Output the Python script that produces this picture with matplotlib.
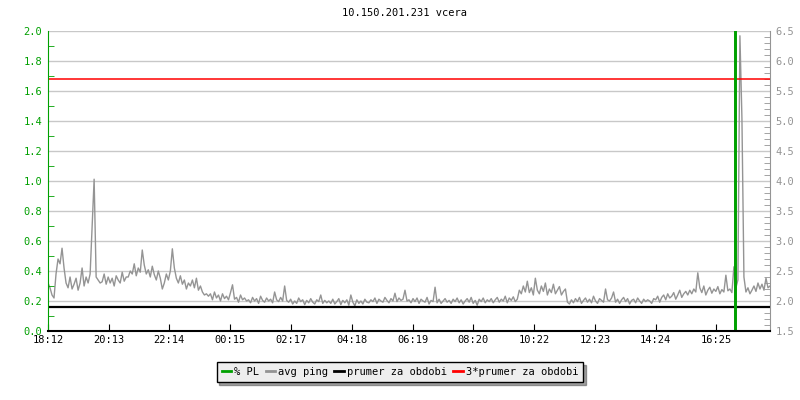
import numpy as np
import matplotlib
matplotlib.use("Agg")
import matplotlib.pyplot as plt
from matplotlib.ticker import MultipleLocator, FormatStrFormatter

# Data (minutes since 18:12, 4 minute steps for ping)
tick_minutes = [0, 121, 242, 363, 485, 606, 727, 848, 970, 1091, 1212, 1333]
tick_labels = ["18:12", "20:13", "22:14", "00:15", "02:17", "04:18",
               "06:19", "08:20", "10:22", "12:23", "14:24", "16:25"]

ping = [
    2.30, 2.22, 2.10, 2.05, 2.45, 2.70, 2.62, 2.88, 2.55, 2.30, 2.22, 2.40, 2.20, 2.28, 2.38, 2.18, 2.30, 2.55, 2.25, 2.40,
    2.30, 2.45, 3.23, 4.03, 2.40, 2.35, 2.30, 2.32, 2.45, 2.28, 2.40, 2.30, 2.38, 2.25, 2.42, 2.35, 2.30, 2.48, 2.33, 2.40,
    2.40, 2.50, 2.45, 2.62, 2.42, 2.55, 2.48, 2.85, 2.60, 2.45, 2.52, 2.40, 2.58, 2.44, 2.35, 2.50, 2.38, 2.20, 2.30, 2.45,
    2.35, 2.50, 2.87, 2.55, 2.38, 2.30, 2.42, 2.28, 2.35, 2.20, 2.30, 2.25, 2.35, 2.22, 2.38, 2.18, 2.25, 2.15, 2.10, 2.12,
    2.08, 2.12, 2.02, 2.15, 2.05, 2.10, 2.00, 2.12, 2.04, 2.08, 2.02, 2.14, 2.27, 2.03, 2.06, 1.98, 2.10, 2.02, 2.05, 2.00,
    2.02, 1.97, 2.06, 2.00, 2.04, 1.96, 2.08, 2.01, 1.98, 2.05, 2.00, 2.03, 1.97, 2.15, 2.02, 1.99, 2.06, 2.00, 2.25, 2.01,
    1.98, 2.03, 1.95, 2.00, 1.96, 2.05, 1.99, 2.02, 1.94, 2.01, 1.97, 2.04, 1.98, 1.95, 2.02, 1.99, 2.10, 1.96, 2.01, 1.97,
    2.00, 1.96, 2.03, 1.95, 1.99, 2.04, 1.94, 2.01, 1.97, 2.02, 1.93, 2.10, 1.98, 1.92, 2.02, 1.96, 2.00, 1.95, 2.03, 1.98,
    1.97, 2.02, 1.99, 2.05, 1.96, 2.03, 2.00, 1.98, 2.06, 2.01, 1.97, 2.04, 2.00, 2.13, 1.99, 2.05, 2.01, 2.03, 2.18, 2.00,
    2.02, 1.97, 2.04, 1.99, 2.05, 1.96, 2.03, 2.00, 1.98, 2.06, 1.95, 2.01, 1.99, 2.23, 1.97, 2.03, 1.96, 2.00, 2.04, 1.98,
    2.01, 1.96, 2.03, 1.99, 2.05, 1.97, 2.02, 1.95, 2.00, 2.04, 1.98, 2.06, 1.96, 2.01, 1.93, 2.03, 1.99, 2.05, 1.97, 2.02,
    1.99, 2.04, 1.97, 2.02, 2.06, 1.98, 2.03, 2.00, 2.08, 1.97, 2.05, 2.01, 2.07, 1.99, 2.03, 2.18, 2.12, 2.25, 2.15, 2.33,
    2.14, 2.22, 2.10, 2.38, 2.18, 2.12, 2.25, 2.16, 2.30, 2.10, 2.20, 2.14, 2.28, 2.12, 2.18, 2.24, 2.10, 2.16, 2.20, 1.98,
    1.95, 2.02, 1.97, 2.04, 1.99, 2.06, 1.96, 2.01, 2.05, 1.98, 2.03, 1.97, 2.08, 2.00, 1.96, 2.04, 2.01, 1.98, 2.20, 2.02,
    2.00, 2.05, 2.15, 1.98, 2.03, 1.96, 2.02, 2.06, 1.99, 2.04, 1.95, 2.01, 2.03, 1.97, 2.05, 2.00, 1.96, 2.03, 1.99, 2.02,
    2.00, 1.96, 2.04, 2.02, 2.08, 1.98, 2.06, 2.10, 2.02, 2.12, 2.05, 2.08, 2.14, 2.03, 2.10, 2.18, 2.06, 2.12, 2.16, 2.10,
    2.18, 2.12, 2.20, 2.15, 2.47, 2.22, 2.14, 2.25, 2.10, 2.18, 2.23, 2.13, 2.20, 2.16, 2.24, 2.12, 2.19, 2.15, 2.43, 2.17,
    2.20, 2.14, 2.57, 2.22, 2.35, 6.42, 5.05, 2.40, 2.15, 2.22, 2.12, 2.18, 2.25, 2.16, 2.30, 2.20, 2.28, 2.18, 2.38, 2.22,
    2.25,
]
ping_minutes = np.arange(len(ping)) * 4

pl_minutes = [0, 1370, 1371, 1372, 1440]
pl_values = [0.0, 1.0, 2.2, 0.0, 0.0]

prumer = 1.9
prumer3 = 5.7

green = "#00a000"
gray = "#949494"
grid_gray = "#c8c8c8"
font = "DejaVu Sans Mono"
plt.rcParams["font.family"] = font
plt.rcParams["font.size"] = 7.5

fig = plt.figure(figsize=(8, 4), dpi=100)
ax = fig.add_axes([0.06, 0.1725, 0.9025, 0.75])
ax2 = ax.twinx()

# ping (right axis)
ax2.plot(ping_minutes, ping, color=gray, lw=1.0, zorder=2)
ax2.axhline(prumer, color="black", lw=1.6, zorder=3)
ax2.axhline(prumer3, color="#ff0000", lw=1.1, zorder=3)
ax2.set_ylim(1.5, 6.5)
ax2.yaxis.set_major_locator(MultipleLocator(0.5))
ax2.yaxis.set_minor_locator(MultipleLocator(0.1))
ax2.yaxis.set_major_formatter(FormatStrFormatter("%.1f"))
ax2.grid(axis="y", color=grid_gray, lw=1, zorder=0)
ax2.set_axisbelow(True)
ax2.tick_params(axis="y", which="both", direction="in", colors=gray, labelcolor=gray, pad=4)
ax2.tick_params(axis="y", which="major", length=0)
ax2.tick_params(axis="y", which="minor", length=4)

# PL (left axis), drawn on top
ax.set_zorder(ax2.get_zorder() + 1)
ax.patch.set_visible(False)
ax.plot(pl_minutes, pl_values, color=green, lw=1.4, drawstyle="steps-post", zorder=4)
ax.set_ylim(0, 2.0)
ax.set_xlim(0, 1440)
ax.yaxis.set_major_locator(MultipleLocator(0.2))
ax.yaxis.set_minor_locator(MultipleLocator(0.1))
ax.yaxis.set_major_formatter(FormatStrFormatter("%.1f"))
ax.tick_params(axis="y", which="both", direction="in", colors=green, labelcolor=green, pad=4)
ax.tick_params(axis="y", which="major", length=0)
ax.tick_params(axis="y", which="minor", length=4)
ax.set_xticks(tick_minutes)
ax.set_xticklabels(tick_labels)
ax.tick_params(axis="x", direction="in", length=5, color="black", labelcolor="black", pad=3)

for a in (ax, ax2):
    a.spines["top"].set_visible(False)
ax.spines["left"].set_color(green)
ax.spines["right"].set_visible(False)
ax.spines["bottom"].set_color("black")
ax.spines["bottom"].set_linewidth(1.5)
ax.spines["bottom"].set_zorder(6)
ax2.spines["left"].set_visible(False)
ax2.spines["bottom"].set_visible(False)
ax2.spines["right"].set_color(gray)

fig.text(0.506, 0.968, "10.150.201.231 vcera", ha="center", va="center", fontsize=7.5)

handles = [
    plt.Line2D([], [], color=green, lw=2),
    plt.Line2D([], [], color=gray, lw=2),
    plt.Line2D([], [], color="black", lw=2),
    plt.Line2D([], [], color="red", lw=2),
]
labels = ["% PL", "avg ping", "prumer za obdobi", "3*prumer za obdobi"]
leg = fig.legend(handles, labels, loc="center", bbox_to_anchor=(0.5, 0.07), ncol=4,
                 frameon=True, fancybox=False, shadow=True, handlelength=0.9,
                 handletextpad=0.3, columnspacing=0.6, borderpad=0.5,
                 edgecolor="black", facecolor="#eeeeee", framealpha=1)
leg.get_frame().set_linewidth(1)

fig.savefig("out.png", dpi=100)
